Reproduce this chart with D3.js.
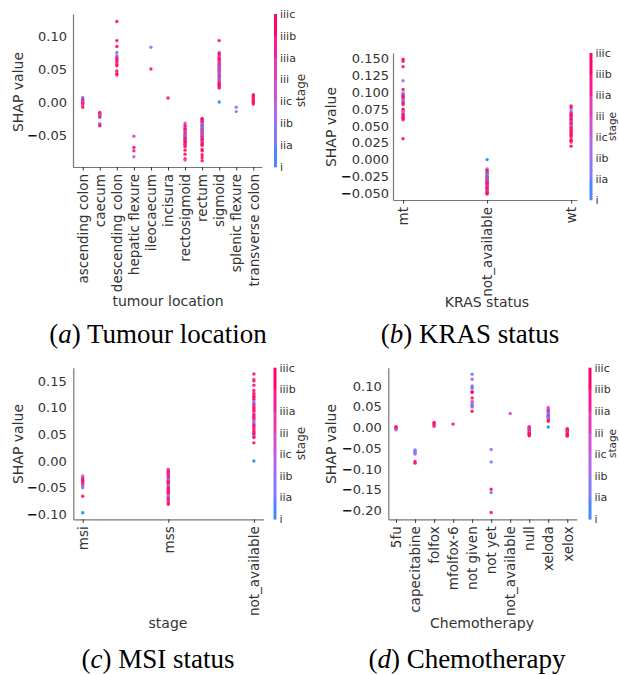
<!DOCTYPE html>
<html>
<head>
<meta charset="utf-8">
<script src="https://cdn.jsdelivr.net/npm/d3@7"></script>
<style>
  body { margin: 0; background: #fff; }
  svg { display: block; }
  text { font-family: "DejaVu Sans", sans-serif; fill: #333; }
</style>
</head>
<body>
<div id="chart"></div>
<script>
// stage levels used for the colour scale (0 = i ... 7 = iiic)
const stages = ["i", "iia", "iib", "iic", "iii", "iiia", "iiib", "iiic"];

// (a) tumour location
const tumourCats = ["ascending colon", "caecum", "descending colon", "hepatic flexure", "ileocaecum",
  "incisura", "rectosigmoid", "rectum", "sigmoid", "splenic flexure", "transverse colon"];
// [category index, SHAP value, stage index]
const tumourPoints = [
  [0,0.007,1],[0,0.005,2],[0,0.003,7],[0,0.002,6],[0,0.0,1],[0,-0.001,2],[0,-0.002,7],[0,-0.004,5],[0,-0.008,7],
  [1,-0.016,7],[1,-0.018,6],[1,-0.019,7],[1,-0.020,2],[1,-0.021,1],[1,-0.023,7],[1,-0.033,1],[1,-0.034,2],[1,-0.036,7],
  [2,0.122,7],[2,0.093,7],[2,0.084,7],[2,0.075,1],[2,0.070,4],[2,0.068,3],[2,0.066,7],[2,0.063,6],[2,0.060,7],
  [2,0.057,5],[2,0.055,7],[2,0.047,7],[2,0.043,6],[2,0.041,7],
  [3,-0.052,4],[3,-0.069,7],[3,-0.074,6],[3,-0.083,3],
  [4,0.083,2],[4,0.050,7],
  [5,0.006,7],
  [6,-0.032,4],[6,-0.035,5],[6,-0.037,7],[6,-0.040,3],[6,-0.041,7],[6,-0.043,6],[6,-0.045,2],[6,-0.047,7],
  [6,-0.049,5],[6,-0.050,1],[6,-0.052,7],[6,-0.053,2],[6,-0.055,6],[6,-0.057,7],[6,-0.058,5],[6,-0.060,7],
  [6,-0.062,6],[6,-0.064,7],[6,-0.066,5],[6,-0.068,7],[6,-0.073,7],[6,-0.079,7],[6,-0.086,6],[6,-0.088,4],
  [7,-0.025,7],[7,-0.026,6],[7,-0.028,7],[7,-0.030,5],[7,-0.031,7],[7,-0.033,1],[7,-0.035,2],[7,-0.036,7],
  [7,-0.037,1],[7,-0.038,1],[7,-0.040,2],[7,-0.041,6],[7,-0.042,1],[7,-0.044,7],[7,-0.045,2],[7,-0.046,5],
  [7,-0.048,1],[7,-0.049,7],[7,-0.050,3],[7,-0.052,1],[7,-0.053,7],[7,-0.055,2],[7,-0.056,6],[7,-0.058,7],
  [7,-0.060,4],[7,-0.062,7],[7,-0.064,6],[7,-0.066,7],[7,-0.072,7],[7,-0.074,6],[7,-0.080,7],[7,-0.084,7],[7,-0.089,7],
  [8,0.093,7],[8,0.075,1],[8,0.073,6],[8,0.071,7],[8,0.068,5],[8,0.066,7],[8,0.064,6],[8,0.062,7],[8,0.060,4],
  [8,0.058,7],[8,0.056,2],[8,0.055,6],[8,0.053,1],[8,0.051,7],[8,0.050,3],[8,0.048,5],[8,0.046,7],[8,0.045,1],
  [8,0.043,2],[8,0.041,7],[8,0.040,1],[8,0.038,6],[8,0.036,4],[8,0.034,1],[8,0.032,7],[8,0.031,2],[8,0.029,7],
  [8,0.027,6],[8,0.025,7],[8,0.023,7],[8,0.021,6],[8,0.0,0],
  [9,-0.008,2],[9,-0.0146,2],
  [10,0.011,7],[10,0.009,6],[10,0.007,7],[10,0.005,5],[10,0.003,7],[10,0.001,6],[10,-0.001,7],[10,-0.003,7]
];
const tumourTicks = [-0.05, 0, 0.05, 0.1];

// (b) KRAS status
const krasCats = ["mt", "not_available", "wt"];
const krasPoints = [
  [0,0.149,7],[0,0.146,7],[0,0.138,7],[0,0.117,3],[0,0.104,7],[0,0.099,1],[0,0.097,2],[0,0.095,7],[0,0.093,6],
  [0,0.092,7],[0,0.090,5],[0,0.088,1],[0,0.086,1],[0,0.084,7],[0,0.082,6],[0,0.075,7],[0,0.073,7],[0,0.071,3],
  [0,0.069,2],[0,0.067,7],[0,0.065,6],[0,0.063,7],[0,0.061,7],[0,0.059,6],[0,0.031,7],
  [1,0.0,0],[1,-0.014,3],[1,-0.016,7],[1,-0.018,6],[1,-0.020,1],[1,-0.021,7],[1,-0.022,1],[1,-0.024,2],[1,-0.025,1],
  [1,-0.026,7],[1,-0.027,1],[1,-0.028,6],[1,-0.029,2],[1,-0.030,1],[1,-0.031,5],[1,-0.033,7],[1,-0.034,1],
  [1,-0.035,6],[1,-0.036,7],[1,-0.038,5],[1,-0.039,7],[1,-0.040,4],[1,-0.042,7],[1,-0.043,6],[1,-0.045,7],
  [1,-0.047,2],[1,-0.048,7],[1,-0.050,6],[1,-0.051,7],
  [2,0.0795,7],[2,0.077,6],[2,0.0725,1],[2,0.070,2],[2,0.068,7],[2,0.066,6],[2,0.064,7],[2,0.062,5],[2,0.060,7],
  [2,0.058,6],[2,0.056,1],[2,0.054,7],[2,0.052,6],[2,0.050,2],[2,0.048,7],[2,0.046,5],[2,0.044,7],[2,0.042,6],
  [2,0.040,7],[2,0.038,7],[2,0.036,6],[2,0.034,7],[2,0.030,7],[2,0.028,6],[2,0.026,7],[2,0.020,7]
];
const krasTicks = [-0.05, -0.025, 0, 0.025, 0.05, 0.075, 0.1, 0.125, 0.15];

// (c) MSI status
const msiCats = ["msi", "mss", "not_available"];
const msiPoints = [
  [0,-0.028,3],[0,-0.030,2],[0,-0.033,7],[0,-0.036,7],[0,-0.039,6],[0,-0.042,7],[0,-0.045,5],[0,-0.048,1],
  [0,-0.050,2],[0,-0.066,7],[0,-0.097,0],
  [1,-0.016,7],[1,-0.018,3],[1,-0.020,6],[1,-0.022,7],[1,-0.024,5],[1,-0.026,7],[1,-0.028,4],[1,-0.030,6],
  [1,-0.032,7],[1,-0.034,1],[1,-0.036,2],[1,-0.038,7],[1,-0.040,5],[1,-0.042,6],[1,-0.044,7],[1,-0.046,3],
  [1,-0.048,2],[1,-0.050,7],[1,-0.052,6],[1,-0.054,7],[1,-0.056,5],[1,-0.058,7],[1,-0.060,6],[1,-0.062,7],
  [1,-0.064,4],[1,-0.066,2],[1,-0.068,1],[1,-0.070,7],[1,-0.074,6],[1,-0.078,7],[1,-0.081,7],
  [2,0.163,7],[2,0.153,3],[2,0.150,7],[2,0.142,7],[2,0.132,6],[2,0.127,7],[2,0.124,5],[2,0.121,7],[2,0.118,6],
  [2,0.115,7],[2,0.111,1],[2,0.108,2],[2,0.105,7],[2,0.102,5],[2,0.099,7],[2,0.096,6],[2,0.093,7],[2,0.089,3],
  [2,0.086,7],[2,0.083,6],[2,0.080,7],[2,0.077,5],[2,0.074,1],[2,0.071,2],[2,0.068,7],[2,0.065,6],[2,0.061,7],
  [2,0.058,5],[2,0.055,7],[2,0.052,6],[2,0.049,7],[2,0.046,1],[2,0.044,7],[2,0.034,7],[2,0.0,0]
];
const msiTicks = [-0.1, -0.05, 0, 0.05, 0.1, 0.15];

// (d) chemotherapy
const chemoCats = ["5fu", "capecitabine", "folfox", "mfolfox-6", "not given", "not yet",
  "not_available", "null", "xeloda", "xelox"];
const chemoPoints = [
  [0,0.002,7],[0,0.0,6],[0,-0.002,7],[0,-0.004,5],[0,-0.006,2],
  [1,-0.054,1],[1,-0.057,2],[1,-0.059,1],[1,-0.062,3],[1,-0.064,2],[1,-0.082,7],[1,-0.086,6],
  [2,0.012,7],[2,0.009,6],[2,0.006,7],[2,0.003,5],
  [3,0.008,7],
  [4,0.128,1],[4,0.116,3],[4,0.100,1],[4,0.097,1],[4,0.094,2],[4,0.086,7],[4,0.084,6],[4,0.071,7],[4,0.062,5],
  [4,0.056,1],[4,0.053,1],[4,0.051,1],[4,0.049,2],[4,0.039,7],
  [5,-0.053,2],[5,-0.083,1],[5,-0.149,7],[5,-0.157,1],[5,-0.205,7],
  [6,0.0336,4],
  [7,0.002,7],[7,0.0,3],[7,-0.002,6],[7,-0.004,7],[7,-0.006,1],[7,-0.008,5],[7,-0.010,7],[7,-0.012,2],
  [7,-0.014,6],[7,-0.016,7],[7,-0.018,7],[7,-0.020,6],
  [8,0.048,4],[8,0.045,3],[8,0.041,5],[8,0.038,7],[8,0.035,2],[8,0.033,1],[8,0.031,1],[8,0.029,1],[8,0.027,6],
  [8,0.025,1],[8,0.023,1],[8,0.020,2],[8,0.018,5],[8,0.015,7],[8,0.001,0],
  [9,-0.003,7],[9,-0.005,6],[9,-0.007,7],[9,-0.009,5],[9,-0.011,7],[9,-0.013,2],[9,-0.015,7],[9,-0.017,6],
  [9,-0.019,7],[9,-0.021,7]
];
const chemoTicks = [-0.2, -0.15, -0.1, -0.05, 0, 0.05, 0.1];

const width = 619;
const height = 675;

const svg = d3.select("#chart")
  .append("svg")
  .attr("width", width)
  .attr("height", height);

svg.append("rect").attr("width", width).attr("height", height).attr("fill", "#fff");

// shap-like blue -> red colour map
const stageColor = d3.scaleSequential(d3.interpolateHcl("#1a8cfb", "#ff0f5a")).domain([0, stages.length - 1]);

const panels = [
  { cats: tumourCats, points: tumourPoints, ticks: tumourTicks, fmt: ".2f",
    left: 73, right: 262, top: 14, bottom: 167, xDom: [-0.57, 10.51], yDom: [-0.0985, 0.1333], pad: 6,
    xlabel: "tumour location", xlabelPos: [168, 306], ylabelPos: [18, 92], cbX: 274, stageOff: 31, stageFont: 12,
    caption: ["a", " Tumour location"], capPos: [158, 343] },
  { cats: krasCats, points: krasPoints, ticks: krasTicks, fmt: ".3f",
    left: 393, right: 577, top: 53, bottom: 200, xDom: [-0.12, 2.07], yDom: [-0.060, 0.1583], pad: 4,
    xlabel: "KRAS status", xlabelPos: [487, 307], ylabelPos: [331, 127], cbX: 589.5, stageOff: 26.5, stageFont: 10.5,
    caption: ["b", " KRAS status"], capPos: [470, 343] },
  { cats: msiCats, points: msiPoints, ticks: msiTicks, fmt: ".2f",
    left: 73.3, right: 263.3, top: 367.7, bottom: 519.3, xDom: [-0.11, 2.11], yDom: [-0.1092, 0.1747], pad: 6.5,
    xlabel: "stage", xlabelPos: [168, 628], ylabelPos: [18, 444], cbX: 273.5, stageOff: 31, stageFont: 12,
    caption: ["c", " MSI status"], capPos: [158, 668] },
  { cats: chemoCats, points: chemoPoints, ticks: chemoTicks, fmt: ".2f",
    left: 388.3, right: 576.7, top: 367.7, bottom: 519.3, xDom: [-0.405, 9.495], yDom: [-0.2212, 0.1438], pad: 6.5,
    xlabel: "Chemotherapy", xlabelPos: [482, 628], ylabelPos: [331, 444], cbX: 588.5, stageOff: 27.5, stageFont: 10.5,
    caption: ["d", " Chemotherapy"], capPos: [467, 668] }
];

panels.forEach(drawPanel);

function drawPanel(p) {
  const g = svg.append("g");
  const x = d3.scaleLinear().domain(p.xDom).range([p.left, p.right]);
  const y = d3.scaleLinear().domain(p.yDom).range([p.bottom, p.top]);

  // y axis (no tick marks, only labels)
  const yAxis = g.append("g")
    .attr("transform", `translate(${p.left},0)`)
    .call(d3.axisLeft(y).tickValues(p.ticks).tickFormat(d3.format(p.fmt))
      .tickSize(0).tickSizeOuter(0).tickPadding(p.pad));
  yAxis.selectAll(".tick text")
    .attr("font-size", 13)
    .attr("font-family", "DejaVu Sans")
    .attr("fill", "#333")
    .each(function(d) {
      if (d < 0) {
        const t = d3.select(this);
        const rest = t.text().slice(1);
        t.text(null);
        t.append("tspan").attr("font-weight", "bold").attr("fill", "#111").text("\u2212");
        t.append("tspan").text(rest);
      }
    });

  // x axis with rotated category labels
  const xAxis = g.append("g")
    .attr("transform", `translate(0,${p.bottom})`)
    .call(d3.axisBottom(x).tickValues(d3.range(p.cats.length)).tickFormat(i => p.cats[i])
      .tickSize(3.5).tickSizeOuter(0));
  xAxis.selectAll(".tick line").attr("stroke", "#333");
  xAxis.selectAll(".tick text")
    .attr("font-size", 13.5)
    .attr("font-family", "DejaVu Sans")
    .attr("fill", "#333")
    .attr("transform", "rotate(-90)")
    .attr("text-anchor", "end")
    .attr("x", -7)
    .attr("y", 0)
    .attr("dy", "0.35em");

  svg.selectAll("path.domain").attr("stroke", "#777").attr("stroke-width", 1.2);

  // points
  g.append("g").selectAll("circle")
    .data(p.points)
    .join("circle")
    .attr("cx", d => x(d[0]))
    .attr("cy", d => y(d[1]))
    .attr("r", 1.7)
    .attr("fill", d => stageColor(d[2]))
    .attr("opacity", 0.9);

  // axis labels
  g.append("text")
    .attr("x", p.xlabelPos[0]).attr("y", p.xlabelPos[1])
    .attr("text-anchor", "middle").attr("font-size", 14)
    .text(p.xlabel);
  g.append("text")
    .attr("transform", `translate(${p.ylabelPos[0]},${p.ylabelPos[1]}) rotate(-90)`)
    .attr("text-anchor", "middle").attr("dy", "0.35em").attr("font-size", 14)
    .text("SHAP value");

  // colour bar
  const cbY = d3.scaleLinear().domain([0, stages.length - 1]).range([p.bottom, p.top]);
  const cb = g.append("g");
  cb.selectAll("rect")
    .data(d3.range(stages.length - 1))
    .join("rect")
    .attr("x", p.cbX)
    .attr("y", k => cbY(k + 1))
    .attr("width", 3)
    .attr("height", k => cbY(k) - cbY(k + 1) + 0.3)
    .attr("fill", k => stageColor(k + 0.5));
  cb.selectAll("text")
    .data(stages)
    .join("text")
    .attr("x", p.cbX + 6)
    .attr("y", (s, k) => cbY(k))
    .attr("dy", "0.35em")
    .attr("font-size", 11)
    .text(s => s);
  g.append("text")
    .attr("transform", `translate(${p.cbX + p.stageOff},${(p.top + p.bottom) / 2}) rotate(-90)`)
    .attr("text-anchor", "middle").attr("font-size", p.stageFont)
    .text("stage");

  // caption under the panel
  const cap = svg.append("text")
    .attr("x", p.capPos[0]).attr("y", p.capPos[1])
    .attr("text-anchor", "middle")
    .style("font-family", "'Liberation Serif', serif")
    .style("fill", "#000")
    .attr("font-size", 27);
  cap.append("tspan").text("(");
  cap.append("tspan").style("font-style", "italic").text(p.caption[0]);
  cap.append("tspan").text(")" + p.caption[1]);
}
</script>
</body>
</html>
